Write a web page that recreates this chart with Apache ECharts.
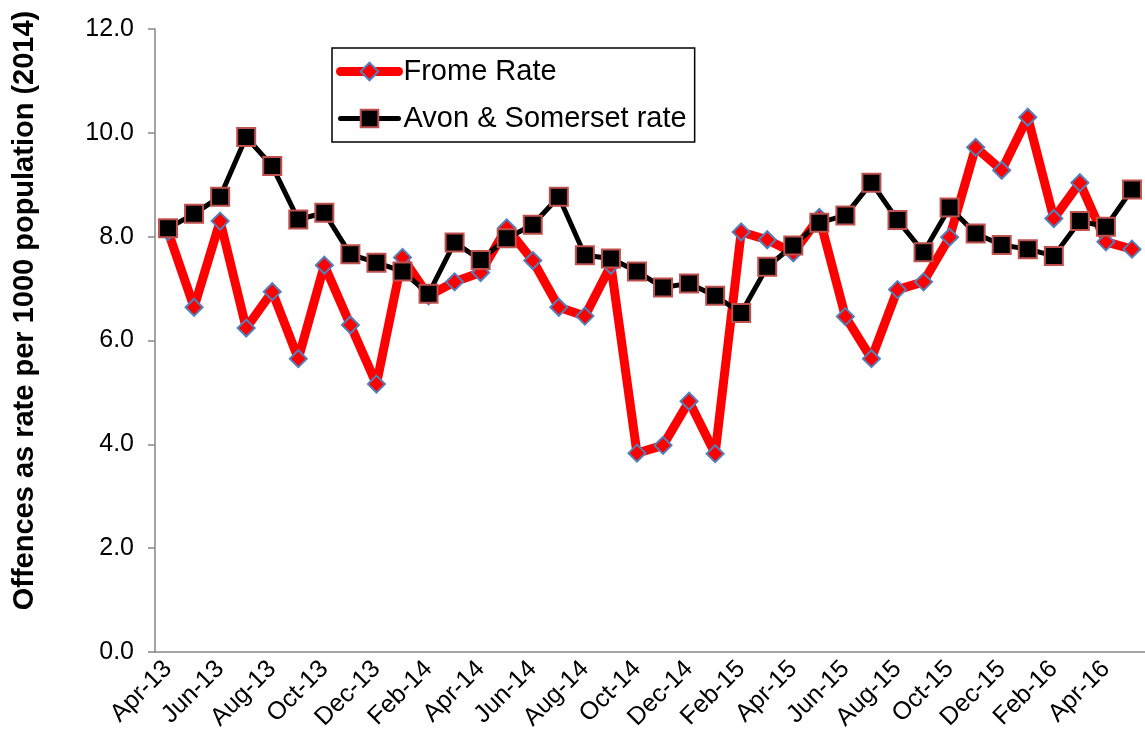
<!DOCTYPE html>
<html>
<head>
<meta charset="utf-8">
<script src="https://cdn.jsdelivr.net/npm/echarts@6/dist/echarts.min.js"></script>
<style>
html,body{margin:0;padding:0;background:#fff;}
#chart{width:1145px;height:742px;}
</style>
</head>
<body>
<div id="chart"></div>
<script>
// months Apr-13 .. May-16
var months = ['Apr-13','May-13','Jun-13','Jul-13','Aug-13','Sep-13','Oct-13','Nov-13','Dec-13',
	'Jan-14','Feb-14','Mar-14','Apr-14','May-14','Jun-14','Jul-14','Aug-14','Sep-14','Oct-14','Nov-14','Dec-14',
	'Jan-15','Feb-15','Mar-15','Apr-15','May-15','Jun-15','Jul-15','Aug-15','Sep-15','Oct-15','Nov-15','Dec-15',
	'Jan-16','Feb-16','Mar-16','Apr-16','May-16'];
var fromeRate = [8.10,6.64,8.30,6.24,6.94,5.65,7.45,6.30,5.16,
	7.60,6.86,7.13,7.31,8.17,7.54,6.64,6.47,7.45,3.83,3.98,4.83,
	3.82,8.09,7.94,7.69,8.37,6.46,5.65,6.98,7.13,7.99,9.72,9.28,
	10.30,8.35,9.04,7.90,7.76];
var avonRate = [8.16,8.44,8.77,9.92,9.36,8.33,8.46,7.66,7.50,
	7.33,6.90,7.89,7.55,7.97,8.23,8.77,7.64,7.58,7.33,7.02,7.10,
	6.86,6.53,7.42,7.83,8.27,8.41,9.04,8.32,7.70,8.56,8.06,7.84,
	7.76,7.63,8.30,8.19,8.91];
var yTicks = [0,2,4,6,8,10,12];

var axisGrey = '#868686';
var fontFam = '"Liberation Sans", Arial, sans-serif';

var myChart = echarts.init(document.getElementById('chart'));
var option = {
	animation: false,
	backgroundColor: '#fff',
	grid: { left: 155, right: 0, top: 29, bottom: 90 },
	legend: {
		orient: 'vertical',
		left: 332, top: 48,
		padding: [9, 8, 9, 4],
		borderColor: '#000',
		borderWidth: 1.5,
		itemWidth: 58,
		itemHeight: 22,
		itemGap: 18,
		data: [
			{ name: 'Frome Rate', lineStyle: { width: 9, cap: 'round' } },
			{ name: 'Avon & Somerset rate', lineStyle: { width: 5, cap: 'round' } }
		],
		textStyle: { fontFamily: fontFam, fontSize: 29, color: '#000' }
	},
	xAxis: {
		type: 'category',
		data: months,
		boundaryGap: true,
		axisLine: { lineStyle: { color: axisGrey, width: 1.5 } },
		axisTick: { interval: 1, length: 7, lineStyle: { color: axisGrey, width: 1.5 } },
		axisLabel: {
			interval: 1, rotate: 45, margin: 13,
			fontFamily: fontFam, fontSize: 25, color: '#000'
		},
		splitLine: { show: false }
	},
	yAxis: {
		type: 'value',
		min: yTicks[0], max: yTicks[yTicks.length - 1], interval: 2,
		name: 'Offences as rate per 1000 population (2014)',
		nameLocation: 'middle',
		nameGap: 116,
		nameTextStyle: { fontFamily: fontFam, fontSize: 29, fontWeight: 'bold', color: '#000', padding: [0, 0, 0, 60] },
		axisLine: { show: true, lineStyle: { color: axisGrey, width: 1.5 } },
		axisTick: { show: true, length: 7, lineStyle: { color: axisGrey, width: 1.5 } },
		axisLabel: {
			margin: 21, fontFamily: fontFam, fontSize: 25, color: '#000',
			formatter: function (v) { return v.toFixed(1); }
		},
		splitLine: { show: false }
	},
	series: [
		{
			name: 'Frome Rate',
			type: 'line',
			data: fromeRate,
			showAllSymbol: true,
			symbol: 'diamond',
			symbolSize: 17,
			color: '#ff0000',
			lineStyle: { color: '#ff0000', width: 9, cap: 'round', join: 'round' },
			itemStyle: { color: '#ff0000', borderColor: '#4f81bd', borderWidth: 2 }
		},
		{
			name: 'Avon & Somerset rate',
			type: 'line',
			data: avonRate,
			showAllSymbol: true,
			symbol: 'rect',
			symbolSize: 18,
			color: '#000',
			lineStyle: { color: '#000', width: 5, cap: 'round', join: 'round' },
			itemStyle: { color: '#000', borderColor: '#c0504d', borderWidth: 2 }
		}
	]
};
myChart.setOption(option);
</script>
</body>
</html>
